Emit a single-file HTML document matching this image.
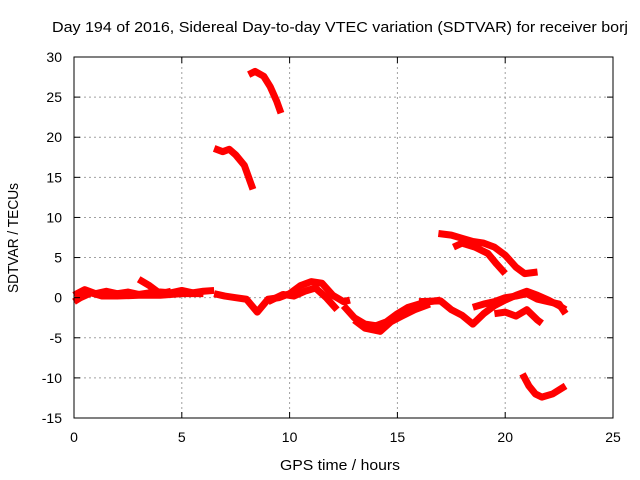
<!DOCTYPE html>
<html><head><meta charset="utf-8"><style>
body{margin:0;background:#fff;}
svg{display:block;font-family:"Liberation Sans",sans-serif;}
</style></head><body>
<svg id="chart" width="640" height="480">
<rect width="640" height="480" fill="#fff"/>
<text x="340" y="32" font-size="15" text-anchor="middle" textLength="576" lengthAdjust="spacingAndGlyphs">Day 194 of 2016, Sidereal Day-to-day VTEC variation (SDTVAR) for receiver borj</text>
<text x="340" y="470" font-size="15" text-anchor="middle" textLength="120" lengthAdjust="spacingAndGlyphs">GPS time / hours</text>
<text transform="translate(18,238) rotate(-90)" font-size="15" text-anchor="middle" textLength="110" lengthAdjust="spacingAndGlyphs">SDTVAR / TECUs</text>
<g id="grid"></g><g id="series"></g><g id="axes"></g>
</svg>
<script>
const xTicks=[0,5,10,15,20,25];
const yTicks=[-15,-10,-5,0,5,10,15,20,25,30];
const track1=[[0,0.3],[0.5,1],[1,0.5],[1.5,0.8],[2,0.5],[2.5,0.7],[3,0.4],[3.5,0.6],[4,0.7],[4.5,0.6],[5,0.9],[5.5,0.6],[6,0.8],[6.5,0.9]];
const track1b=[[0,-0.5],[0.3,0],[0.8,0.6],[1.3,0.2],[2,0.2],[3,0.3],[4,0.3],[5,0.5],[6,0.5]];
const track2=[[3,2.3],[3.5,1.5],[4,0.5],[4.5,0.8]];
const track3=[[6.5,18.6],[6.9,18.2],[7.2,18.5],[7.5,17.8],[7.9,16.5],[8.1,15],[8.3,13.5]];
const track4=[[8.1,27.8],[8.4,28.2],[8.8,27.6],[9.1,26.3],[9.4,24.5],[9.6,23]];
const track5=[[6.5,0.5],[7,0.2],[7.5,0],[8,-0.2],[8.5,-1.8],[9,-0.2],[9.5,0],[10,0.5],[10.5,1.5],[11,2],[11.5,1.8],[12,0.3],[12.5,-0.5],[12.8,-0.3]];
const track5b=[[9,-0.5],[9.7,0.4],[10.2,0.2],[10.7,0.8],[11.2,1.2],[11.7,0],[12.2,-1.5]];
const track6=[[12.5,-1],[13,-2.5],[13.5,-3.3],[14,-3.5],[14.5,-3],[15,-2],[15.5,-1.2],[16,-0.8],[16.5,-0.5],[17,-0.3]];
const track6b=[[13,-2.8],[13.5,-3.8],[14.2,-4.2],[14.7,-3],[15.2,-2.3],[15.8,-1.5],[16.5,-0.8]];
const track7=[[16.9,8],[17.5,7.8],[18,7.4],[18.5,7],[19,6.8],[19.5,6.3],[20,5.3],[20.5,3.8],[20.9,3],[21.5,3.2]];
const track8=[[17.6,6.3],[18,6.8],[18.6,6.3],[19.2,5.5],[19.6,4.2],[20,3]];
const track9=[[16,-0.5],[17,-0.4],[17.5,-1.5],[18,-2.2],[18.5,-3.3],[19,-2],[19.5,-1],[20,-0.3],[20.5,0.3],[21,0.8],[21.5,0.3],[22,-0.3],[22.5,-1],[22.8,-1.5]];
const track9b=[[18.5,-1.2],[19,-0.8],[19.5,-0.5],[20,0],[20.5,0.2],[21,0.5],[21.5,-0.2],[22,-0.5],[22.5,-0.8],[22.8,-2]];
const track10=[[19.5,-2],[20,-1.8],[20.5,-2.3],[21,-1.5],[21.5,-2.8],[21.7,-3.2]];
const track11=[[20.8,-9.5],[21.1,-11],[21.4,-12],[21.7,-12.4],[22.2,-12],[22.8,-11]];
const tracks=[track1,track1b,track2,track3,track4,track5,track5b,track6,track6b,track7,track8,track9,track9b,track10,track11];
const X0=74,X1=613,Y0=418,Y1=57;
const sx=v=>X0+(v-0)/25*(X1-X0);
const sy=v=>Y0-(v+15)/45*(Y0-Y1);
const NS="http://www.w3.org/2000/svg";
const g=document.getElementById('grid'),s=document.getElementById('series'),a=document.getElementById('axes');
function mk(tag,attrs,parent){const e=document.createElementNS(NS,tag);for(const k in attrs)e.setAttribute(k,attrs[k]);parent.appendChild(e);return e;}
xTicks.forEach(t=>{
 const l=mk('line',{x1:sx(t),x2:sx(t),y1:Y1,y2:Y0,stroke:'#a0a0a0','stroke-dasharray':'2,3'},g);
 
 
 mk('line',{x1:sx(t),x2:sx(t),y1:Y0,y2:Y0-6,stroke:'#000'},a);
 mk('line',{x1:sx(t),x2:sx(t),y1:Y1,y2:Y1+6,stroke:'#000'},a);
 const tx=mk('text',{x:sx(t),y:Y0+24,'font-size':14,'text-anchor':'middle'},a);tx.textContent=t;
 
 
});
yTicks.forEach(t=>{
 const l=mk('line',{x1:X0,x2:X1,y1:sy(t),y2:sy(t),stroke:'#a0a0a0','stroke-dasharray':'2,3'},g);
 
 
 mk('line',{x1:X0,x2:X0+6,y1:sy(t),y2:sy(t),stroke:'#000'},a);
 mk('line',{x1:X1,x2:X1-6,y1:sy(t),y2:sy(t),stroke:'#000'},a);
 const tx=mk('text',{x:X0-12,y:sy(t)+5,'font-size':14,'text-anchor':'end'},a);tx.textContent=t;
 
 
});
const fr=mk('rect',{x:X0,y:Y1,width:X1-X0,height:Y0-Y1,fill:'none',stroke:'#000'},a);


tracks.forEach(tr=>{
 const p=mk('polyline',{points:tr.map(d=>sx(d[0])+','+sy(d[1])).join(' '),fill:'none',stroke:'#f00','stroke-width':7,'stroke-linejoin':'round'},s);
 
 
});
</script>
</body></html>
